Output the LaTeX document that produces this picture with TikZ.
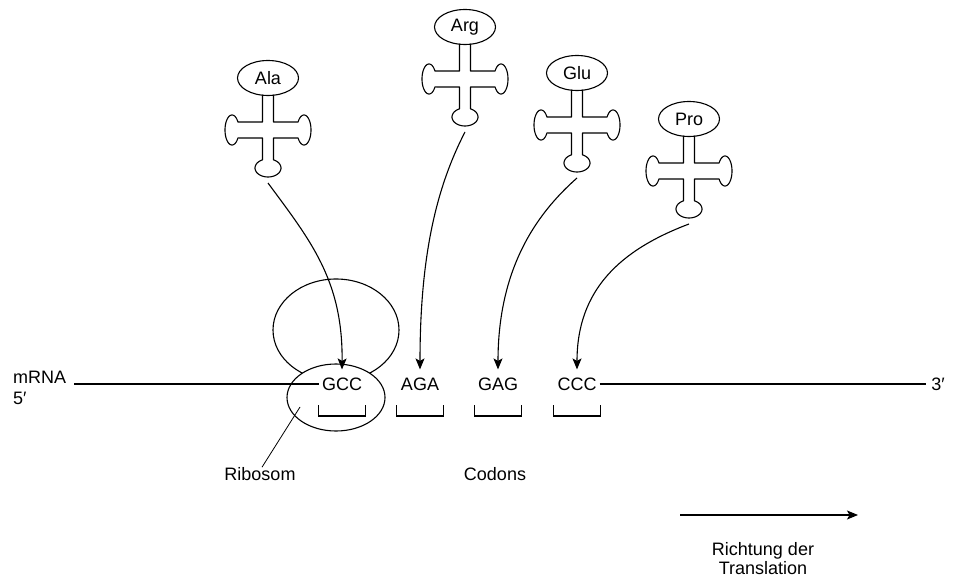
\documentclass[tikz,border=0pt]{standalone}
\usepackage{fontspec}
\setmainfont{Liberation Sans}
\usetikzlibrary{shapes.geometric,arrows.meta,calc}
\tikzset{
  ln/.style={line width=1.1pt, line join=round},
  lbl/.style={font=\fontsize{18}{19}\selectfont, inner sep=2pt},
  head/.style={ln, draw, ellipse, minimum width=61pt, minimum height=35pt, inner sep=0pt, font=\fontsize{18}{19}\selectfont},
  codon/.style={font=\fontsize{18}{19}\selectfont, inner xsep=3pt, inner ysep=8pt},
  arr/.style={ln, -{Stealth[length=11pt,width=9pt,inset=2.5pt]}},
}
\newcommand{\tRNA}[4]{%
  \begin{scope}[shift={(#2,#3)}]
    \node[head] (#1) at (0,-52) {#4};
    \draw[ln] (-5.5,-35.3) -- (-5.5,-8) -- (-30.06,-8)
      -- plot[domain=-148:148, samples=50] ({-36-7*cos(\x)},{15*sin(\x)})
      -- (-5.5,8) -- (-5.5,29.84)
      -- plot[domain=-155:155, samples=50] ({13*sin(\x)},{38+9*cos(\x)})
      -- (5.5,8) -- (30.06,8)
      -- plot[domain=-148:148, samples=50] ({36+7*cos(\x)},{-15*sin(\x)})
      -- (5.5,-8) -- (5.5,-35.3);
    \coordinate (#1-b) at (0,53);
  \end{scope}}
\begin{document}
\begin{tikzpicture}[x=1pt,y=-1pt]
\useasboundingbox (0,0) rectangle (969,580);
% tRNAs
\tRNA{ala}{268}{130}{Ala}
\tRNA{arg}{465}{79}{Arg}
\tRNA{glu}{577}{125}{Glu}
\tRNA{pro}{689}{171}{Pro}
% ribosome
\node[ln, draw, ellipse, minimum width=126pt, minimum height=102pt, inner sep=0pt] (large) at (336,330) {};
\node[ln, draw, fill=white, ellipse, minimum width=98pt, minimum height=67pt, inner sep=0pt] (small) at (336,397.5) {};
% codons
\node[codon] (gcc) at (342,384) {GCC};
\node[codon] (aga) at (420,384) {AGA};
\node[codon] (gag) at (498,384) {GAG};
\node[codon] (ccc) at (577,384) {CCC};
% mRNA line
\coordinate (mL) at (74,384);
\coordinate (mR) at (926,384);
\draw[ln] (mL) -- (gcc.west);
\draw[ln] (ccc.east) -- (mR);
\node[lbl, anchor=west] (mrna) at (11,377) {mRNA};
\node[lbl, anchor=west] (five) at (11,398) {5′};
\node[lbl] (three) at (938,384) {3′};
% brackets
\foreach \c in {gcc,aga,gag,ccc}{
  \draw[ln, line join=miter] ($(\c)+(-23.5,21)$) -- ($(\c)+(-23.5,32)$) -- ($(\c)+(23.5,32)$) -- ($(\c)+(23.5,21)$);
}
% arrows from tRNAs
\draw[arr] (ala-b) .. controls (310,240) and (343,280) .. (gcc.north);
\draw[arr] (arg-b) .. controls (435,190) and (420,260) .. (aga.north);
\draw[arr] (glu-b) .. controls (535,215) and (498,270) .. (gag.north);
\draw[arr] (pro-b) .. controls (620,250) and (577,290) .. (ccc.north);
% labels
\node[lbl] (ribosom) at (260,474) {Ribosom};
\coordinate (rp) at (300,407);
\draw[line width=0.8pt] ([xshift=2pt,yshift=-2pt]ribosom.north) -- (rp);
\node[lbl] (codons) at (495,474) {Codons};
% direction
\coordinate (dA) at (680,515);
\coordinate (dB) at (858,515);
\draw[arr] (dA) -- (dB);
\node[lbl, align=center] (richtung) at (763,559) {Richtung der\\Translation};
\end{tikzpicture}
\end{document}
